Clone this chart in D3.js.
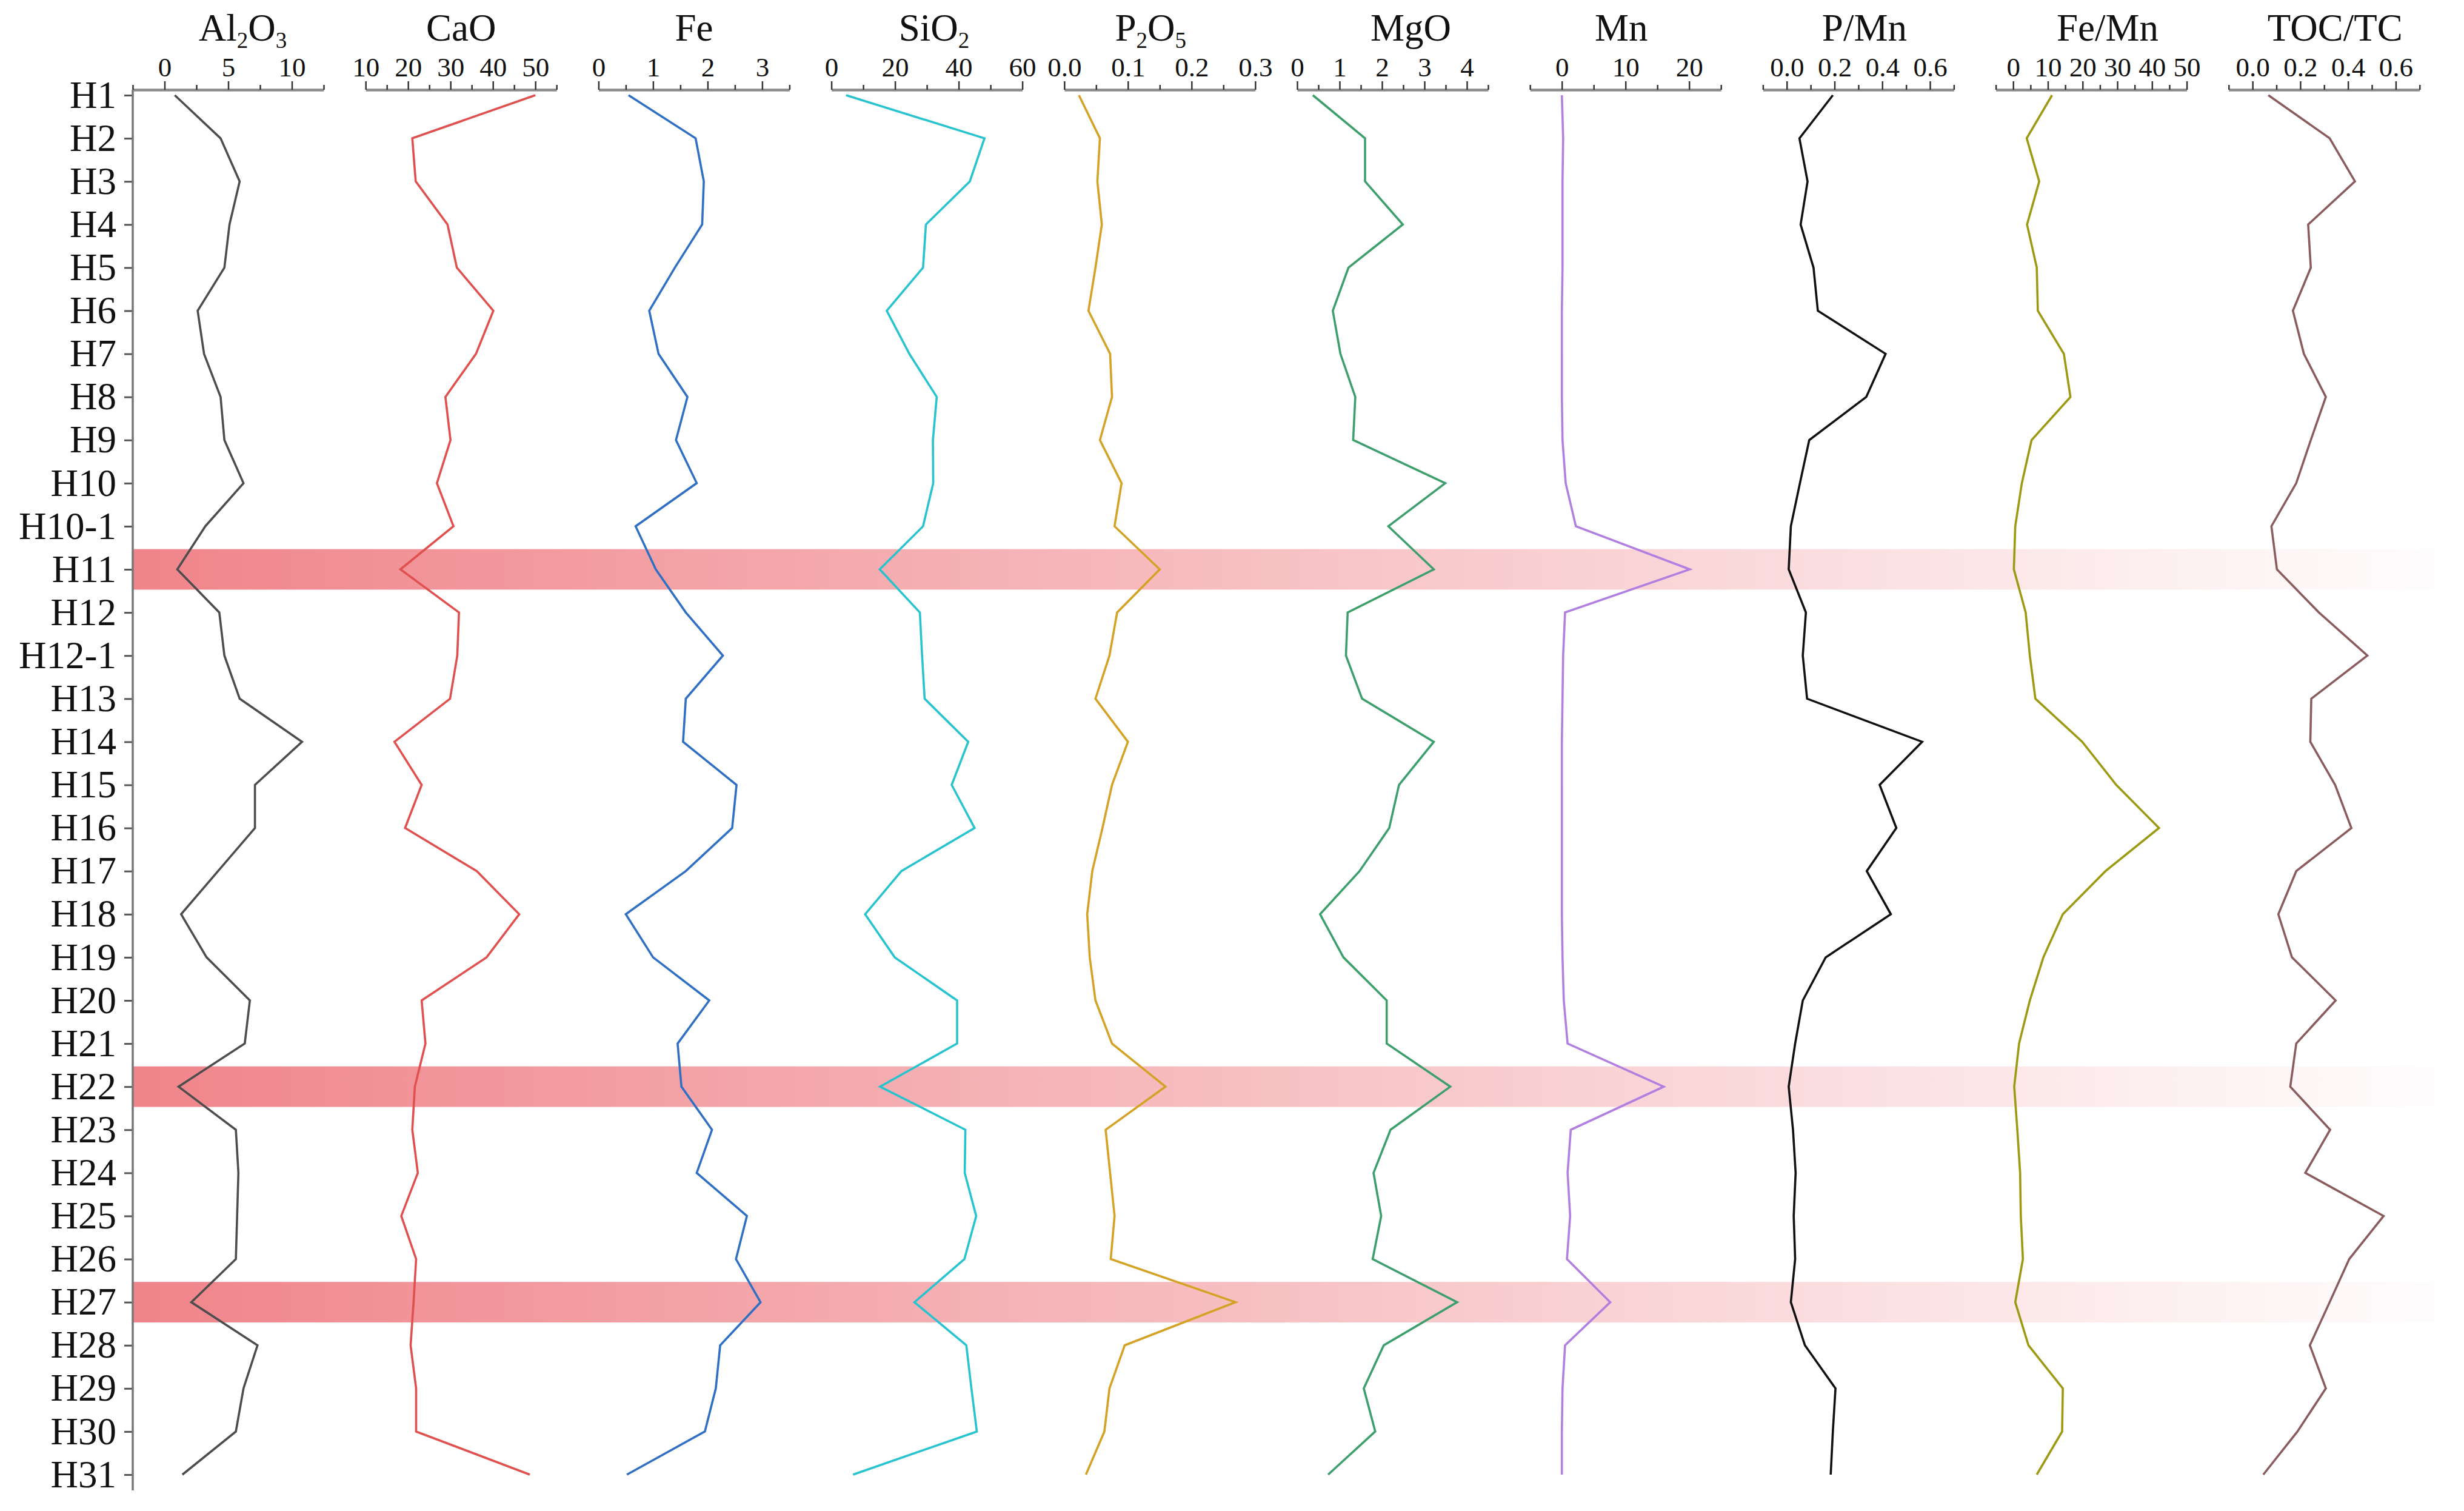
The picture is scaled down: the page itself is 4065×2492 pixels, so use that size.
<!DOCTYPE html>
<html>
<head>
<meta charset="utf-8">
<script src="https://cdn.jsdelivr.net/npm/d3@7/dist/d3.min.js"></script>
<style>
  html, body { margin: 0; padding: 0; background: #fff; }
  svg { display: block; }
  text { font-family: "Liberation Serif", "Times New Roman", serif; fill: #111; }
</style>
</head>
<body>
<script>
// ---------------- DATA ----------------
const samples = ["H1","H2","H3","H4","H5","H6","H7","H8","H9","H10","H10-1","H11","H12","H12-1","H13","H14","H15","H16","H17","H18","H19","H20","H21","H22","H23","H24","H25","H26","H27","H28","H29","H30","H31"];
const highlighted = ["H11","H22","H27"];

const al2o3 = [0.8,4.4,5.9,5.1,4.7,2.6,3.1,4.4,4.7,6.2,3.2,1.0,4.3,4.7,5.9,10.8,7.1,7.1,4.2,1.3,3.3,6.7,6.3,1.1,5.6,5.8,5.7,5.6,2.1,7.3,6.2,5.6,1.4];
const cao   = [50,21.0,21.8,29.3,31.5,40.1,36.0,28.8,30.0,26.8,30.7,18.2,32.0,31.6,29.9,16.8,23.2,19.3,36.2,46.2,38.5,23.2,24.1,21.6,21.0,22.3,18.4,21.9,21.3,20.6,21.9,21.9,48.7];
const fe    = [0.55,1.78,1.93,1.90,1.40,0.93,1.10,1.63,1.42,1.80,0.68,1.05,1.60,2.28,1.60,1.55,2.53,2.45,1.60,0.50,1.00,2.03,1.45,1.52,2.08,1.80,2.72,2.52,2.97,2.23,2.15,1.95,0.52];
const sio2  = [4.6,48.1,43.5,29.7,28.8,17.4,24.5,33.1,31.9,32.0,28.8,15.2,27.8,28.5,29.3,43.0,37.8,45.0,22.0,10.6,19.9,39.5,39.5,15.3,42.1,41.9,45.5,41.8,26.1,42.4,44.0,45.7,6.8];
const p2o5  = [0.023,0.056,0.052,0.059,0.049,0.038,0.072,0.075,0.056,0.090,0.079,0.150,0.083,0.071,0.049,0.100,0.075,0.060,0.044,0.036,0.040,0.049,0.075,0.159,0.065,0.072,0.079,0.073,0.269,0.095,0.071,0.063,0.034];
const mgo   = [0.37,1.60,1.60,2.49,1.21,0.84,1.02,1.37,1.32,3.49,2.15,3.22,1.19,1.15,1.53,3.22,2.40,2.17,1.47,0.54,1.09,2.11,2.11,3.61,2.20,1.80,1.98,1.78,3.77,2.04,1.57,1.84,0.73];
const mn    = [0.0,0.2,0.1,0.1,0.1,0.0,0.0,0.0,0.1,0.6,2.2,20.1,0.5,0.2,0.1,0.0,0.0,0.0,0.0,0.0,0.1,0.3,0.9,16.0,1.4,0.9,1.3,0.8,7.6,0.5,0.1,0.0,0.0];
const pmn   = [0.193,0.053,0.087,0.058,0.112,0.130,0.414,0.333,0.094,0.055,0.017,0.008,0.080,0.067,0.085,0.567,0.389,0.459,0.335,0.436,0.163,0.067,0.035,0.008,0.026,0.037,0.029,0.035,0.017,0.076,0.204,0.193,0.184];
const femn  = [11.2,3.9,7.5,4.0,6.8,7.1,14.6,16.5,5.3,2.5,0.6,0.2,3.6,4.8,6.4,19.9,29.7,42.0,26.6,14.3,8.7,4.8,1.7,0.3,1.2,2.0,2.2,2.8,0.6,4.4,14.3,14.1,6.8];
const toctc = [0.066,0.323,0.429,0.233,0.244,0.169,0.215,0.307,0.244,0.183,0.079,0.102,0.278,0.481,0.246,0.242,0.346,0.414,0.183,0.108,0.165,0.348,0.183,0.158,0.325,0.221,0.549,0.405,0.323,0.240,0.307,0.188,0.045];

// Titles as [text, subscript?] segments
const titles = [
  [["Al",0],["2",1],["O",0],["3",1]],
  [["CaO",0]],
  [["Fe",0]],
  [["SiO",0],["2",1]],
  [["P",0],["2",1],["O",0],["5",1]],
  [["MgO",0]],
  [["Mn",0]],
  [["P/Mn",0]],
  [["Fe/Mn",0]],
  [["TOC/TC",0]]
];
const seriesValues = [al2o3, cao, fe, sio2, p2o5, mgo, mn, pmn, femn, toctc];
const domains = [[-2.5,12.5],[10,55],[0,3.5],[0,60],[0,0.3],[0,4.5],[-5,25],[-0.1,0.7],[-5,50],[-0.1,0.7]];
const tickSteps = [2.5,5,0.5,10,0.05,0.5,5,0.1,5,0.1];
const tickLabels = [
  ["0","5","10"],
  ["10","20","30","40","50"],
  ["0","1","2","3"],
  ["0","20","40","60"],
  ["0.0","0.1","0.2","0.3"],
  ["0","1","2","3","4"],
  ["0","10","20"],
  ["0.0","0.2","0.4","0.6"],
  ["0","10","20","30","40","50"],
  ["0.0","0.2","0.4","0.6"]
];

// ---------------- STYLE / LAYOUT ----------------
const colors = ["#4d4d4d","#e0504e","#2f6fc4","#27c3cf","#d4a224","#3c9f6c","#b07fe0","#111111","#9b9a12","#8a5c5e"];
const titleDx = [24,0,0,12,-15,30,-7,10,27,18];

const W = 4065, H = 2492;
const axisX0 = 219, panelStep = 384.2, panelW = 315;
const axisY = 148;
const yTop = 157, yBot = 2432, yAxisEnd = 2458;
const bandEnd = 4015;

const svg = d3.select("body").append("svg")
  .attr("width", W).attr("height", H)
  .attr("viewBox", `0 0 ${W} ${H}`);
svg.append("rect").attr("width", W).attr("height", H).attr("fill", "#fff");

const y = d3.scalePoint().domain(samples).range([yTop, yBot]);
const rowStep = y.step();

// gradient for highlight bands
const defs = svg.append("defs");
const grad = defs.append("linearGradient")
  .attr("id", "bandGrad").attr("gradientUnits", "userSpaceOnUse")
  .attr("x1", axisX0).attr("x2", bandEnd).attr("y1", 0).attr("y2", 0);
grad.append("stop").attr("offset", 0).attr("stop-color", "rgb(238,122,128)").attr("stop-opacity", 0.92);
grad.append("stop").attr("offset", 0.55).attr("stop-color", "rgb(238,122,128)").attr("stop-opacity", 0.42);
grad.append("stop").attr("offset", 0.9).attr("stop-color", "rgb(238,122,128)").attr("stop-opacity", 0.1);
grad.append("stop").attr("offset", 1).attr("stop-color", "rgb(238,122,128)").attr("stop-opacity", 0.02);

svg.append("g").selectAll("rect").data(highlighted).join("rect")
  .attr("x", axisX0 + 1)
  .attr("width", bandEnd - axisX0)
  .attr("y", d => y(d) - rowStep * 0.47)
  .attr("height", rowStep * 0.94)
  .attr("fill", "url(#bandGrad)");

// ---------------- Y AXIS ----------------
const yAxisG = svg.append("g").attr("transform", `translate(${axisX0},0)`)
  .call(d3.axisLeft(y).tickSize(14).tickPadding(13));
yAxisG.select(".domain").remove();
yAxisG.selectAll(".tick line").attr("stroke", "#555").attr("stroke-width", 3);
yAxisG.selectAll(".tick text")
  .style("font-family", "'Liberation Serif', 'Times New Roman', serif")
  .style("font-size", "63px").attr("fill", "#111");
svg.append("line")
  .attr("x1", axisX0).attr("x2", axisX0)
  .attr("y1", axisY).attr("y2", yAxisEnd)
  .attr("stroke", "#777").attr("stroke-width", 3.5);

// ---------------- PANELS ----------------
seriesValues.forEach((vals, i) => {
  const x0 = axisX0 + i * panelStep;
  const dom = domains[i];
  const x = d3.scaleLinear().domain(dom).range([x0, x0 + panelW]);
  const step = tickSteps[i];
  const n = Math.round((dom[1] - dom[0]) / step);
  const ticks = d3.range(n + 1).map(k => +(dom[0] + k * step).toFixed(6));
  const labelMap = new Map(tickLabels[i].map(l => [+l, l]));
  const isLabeled = v => labelMap.has(+v.toFixed(6));

  const g = svg.append("g").attr("transform", `translate(0,${axisY})`);
  g.call(d3.axisTop(x).tickValues(ticks).tickSizeOuter(0).tickSize(0).tickPadding(0)
          .tickFormat(v => isLabeled(v) ? labelMap.get(+v.toFixed(6)) : ""));
  g.select(".domain").attr("stroke", "#8a8a8a").attr("stroke-width", 4.5);
  g.selectAll(".tick line")
    .attr("y2", d => isLabeled(d) ? -14 : -8)
    .attr("stroke", "#333").attr("stroke-width", 2.5);
  g.selectAll(".tick text")
    .attr("y", -22).attr("dy", 0)
    .style("font-family", "'Liberation Serif', 'Times New Roman', serif")
    .style("font-size", "45px").attr("fill", "#111");

  // title
  const t = svg.append("text")
    .attr("x", x0 + panelW / 2 + titleDx[i]).attr("y", 67)
    .attr("text-anchor", "middle")
    .style("font-size", "63px");
  let shifted = false;
  titles[i].forEach(([s, sub]) => {
    const ts = t.append("tspan").text(s);
    if (sub && !shifted) { ts.attr("dy", 12).style("font-size", "37px"); shifted = true; }
    else if (sub) { ts.style("font-size", "37px"); }
    else if (!sub && shifted) { ts.attr("dy", -12); shifted = false; }
  });

  // line
  const line = d3.line().x(d => x(d.v)).y(d => y(d.s));
  svg.append("path")
    .datum(samples.map((s, k) => ({ s, v: vals[k] })))
    .attr("d", line)
    .attr("fill", "none")
    .attr("stroke", colors[i])
    .attr("stroke-width", 3.6)
    .attr("stroke-linejoin", "miter");
});
</script>
</body>
</html>
